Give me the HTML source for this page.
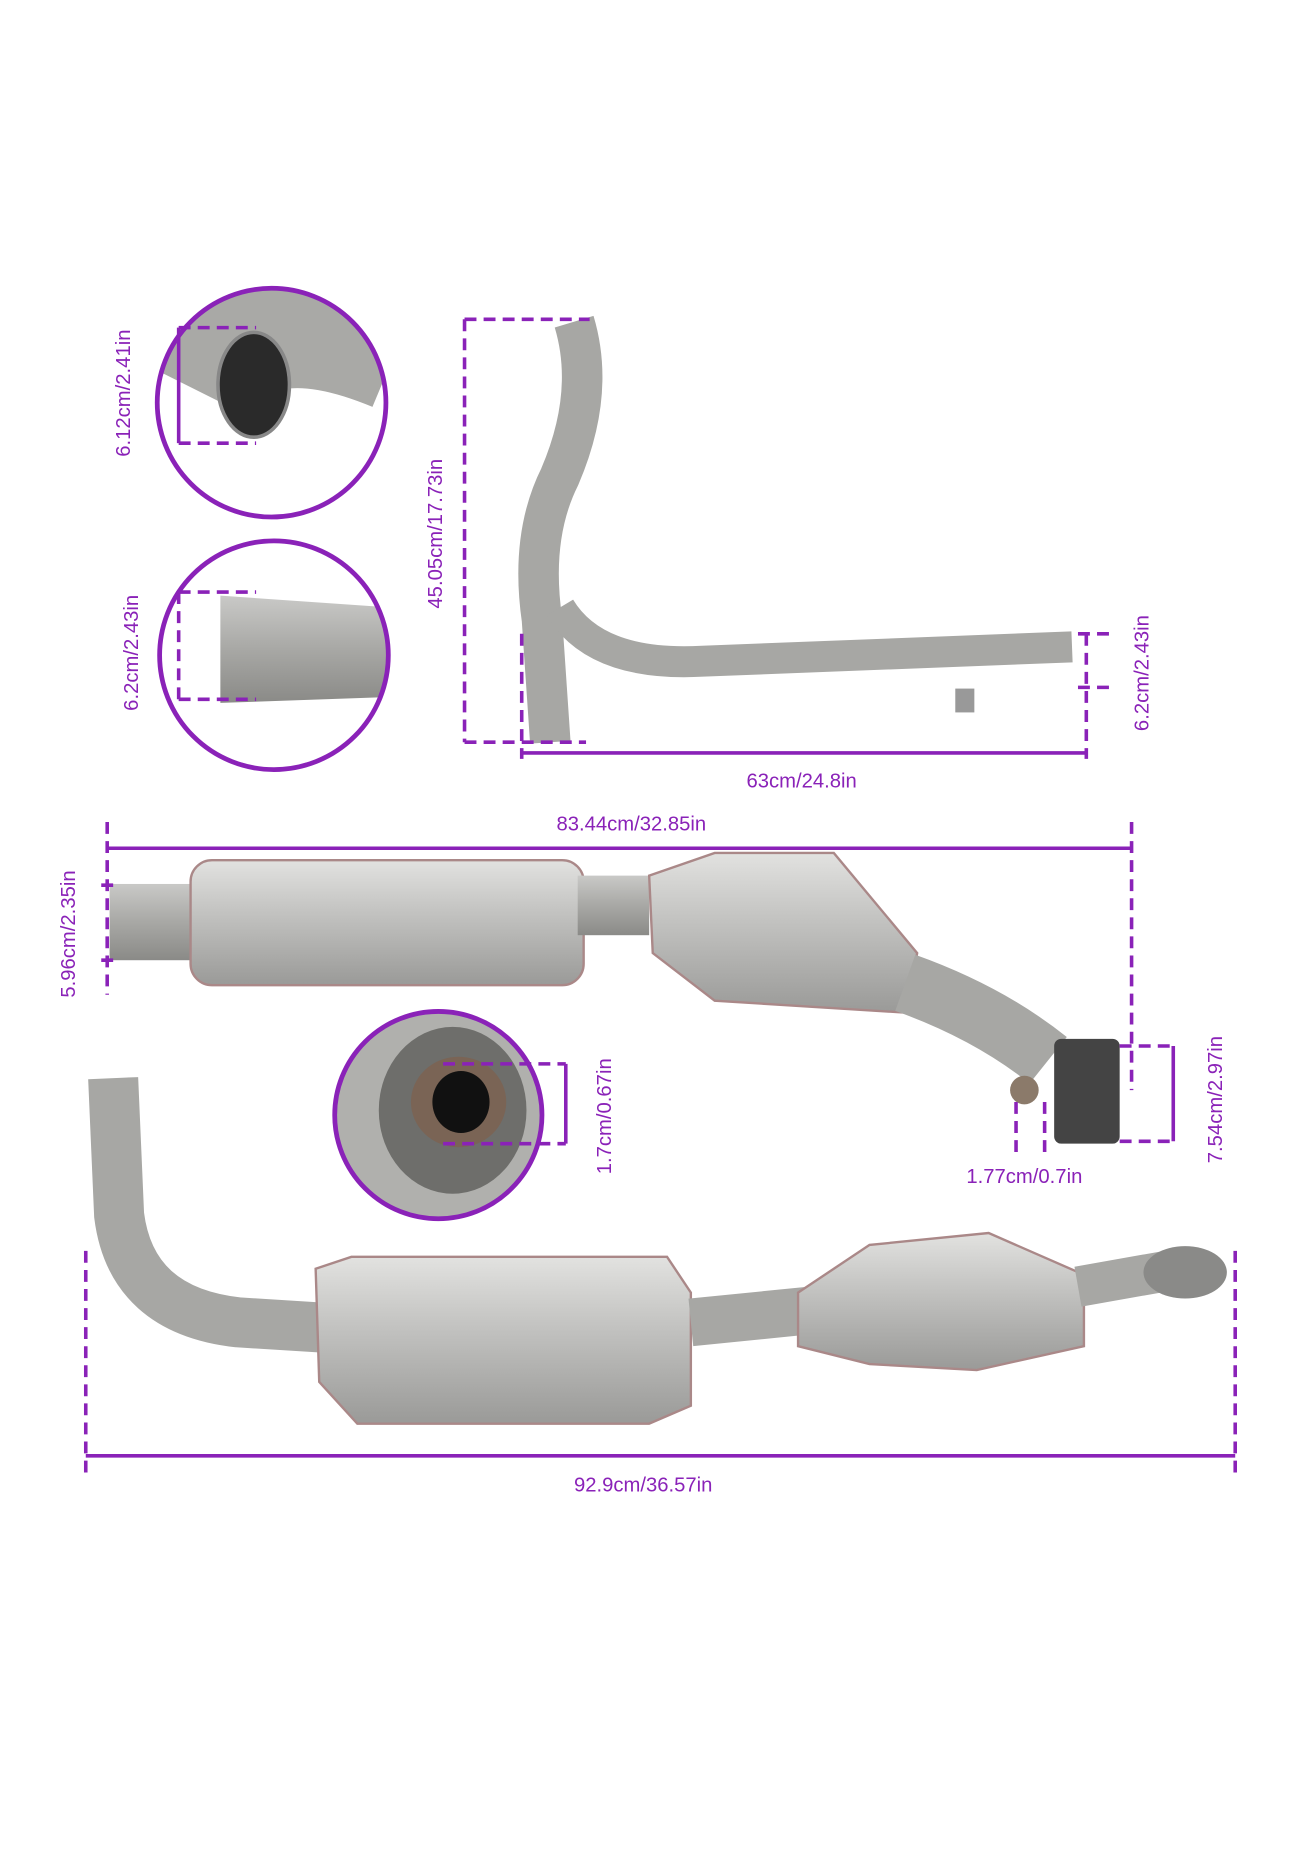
<!DOCTYPE html>
<html><head><meta charset="utf-8"><style>
html,body{margin:0;padding:0;background:#fff;}
svg{display:block}
text{font-family:"Liberation Sans",sans-serif;fill:#8a22b8;font-size:17px}
</style></head><body>
<svg width="1290" height="1868" viewBox="0 0 1083 1568" preserveAspectRatio="none" xmlns="http://www.w3.org/2000/svg">
<defs>
<linearGradient id="pg" x1="0" y1="0" x2="0" y2="1"><stop offset="0" stop-color="#c9c9c7"/><stop offset=".5" stop-color="#a8a8a5"/><stop offset="1" stop-color="#8a8a87"/></linearGradient>
<linearGradient id="cg" x1="0" y1="0" x2="0" y2="1"><stop offset="0" stop-color="#e2e2e0"/><stop offset=".4" stop-color="#c4c4c2"/><stop offset="1" stop-color="#9a9a98"/></linearGradient>
<clipPath id="c1"><circle cx="228" cy="338" r="95"/></clipPath>
<clipPath id="c2"><circle cx="230" cy="550" r="95"/></clipPath>
<clipPath id="c3"><circle cx="368" cy="936" r="86"/></clipPath>
</defs>
<g fill="none" stroke="#8a22b8" stroke-width="3">
<!-- circle 1 -->
<g clip-path="url(#c1)"><path d="M170 330 Q210 250 330 300" stroke="#a9a9a6" stroke-width="90"/><ellipse cx="213" cy="323" rx="30" ry="44" fill="#2a2a2a" stroke="#888" stroke-width="3"/></g>
<circle cx="228" cy="338" r="96" stroke-width="4"/>
<!-- circle 2 -->
<g clip-path="url(#c2)"><path d="M185 500 L330 510 L330 585 L185 590 Z" fill="url(#pg)" stroke="none"/></g>
<circle cx="230" cy="550" r="96" stroke-width="4"/>
<!-- circle 3 -->
<g clip-path="url(#c3)"><rect x="280" y="848" width="176" height="176" fill="#b0b0ad" stroke="none"/><ellipse cx="380" cy="932" rx="62" ry="70" fill="#6e6e6b" stroke="none"/><ellipse cx="385" cy="925" rx="40" ry="38" fill="#7a6455" stroke="none"/><ellipse cx="387" cy="925" rx="24" ry="26" fill="#111" stroke="none"/></g>
<circle cx="368" cy="936" r="87" stroke-width="4"/>
</g>
<!-- Y pipe -->
<g fill="none" stroke-linecap="butt">
<path d="M482 270 Q500 330 470 400 Q445 450 455 520 L462 623" stroke="#a7a7a4" stroke-width="34"/>
<path d="M470 510 Q500 560 590 555 L900 543" stroke="#a7a7a4" stroke-width="26"/>
<rect x="802" y="578" width="16" height="20" fill="#999"/>
</g>
<!-- middle assembly -->
<g>
<rect x="92" y="742" width="80" height="64" fill="url(#pg)"/>
<rect x="160" y="722" width="330" height="105" rx="18" fill="url(#cg)" stroke="#a88" stroke-width="2"/>
<rect x="485" y="735" width="60" height="50" fill="url(#pg)"/>
<path d="M545 735 L600 716 L700 716 L770 800 L760 850 L600 840 L548 800 Z" fill="url(#cg)" stroke="#a88" stroke-width="2"/>
<path d="M760 825 Q830 850 880 890" stroke="#a7a7a4" stroke-width="50" fill="none"/>
<rect x="885" y="872" width="55" height="88" rx="6" fill="#444"/>
<circle cx="860" cy="915" r="12" fill="#8b7a6a"/>
</g>
<!-- bottom assembly -->
<g fill="none">
<path d="M95 905 L100 1020 Q110 1100 200 1110 L280 1115" stroke="#a7a7a4" stroke-width="42"/>
<path d="M265 1065 L295 1055 L560 1055 L580 1085 L580 1180 L545 1195 L300 1195 L268 1160 Z" fill="url(#cg)" stroke="#a88" stroke-width="2"/>
<path d="M580 1110 L680 1100" stroke="#a7a7a4" stroke-width="40"/>
<path d="M670 1085 L730 1045 L830 1035 L910 1070 L910 1130 L820 1150 L730 1145 L670 1130 Z" fill="url(#cg)" stroke="#a88" stroke-width="2"/>
<path d="M905 1080 L990 1065" stroke="#a7a7a4" stroke-width="34"/>
<ellipse cx="995" cy="1068" rx="35" ry="22" fill="#8a8a88"/>
</g>
<!-- dimension lines -->
<g fill="none" stroke="#8a22b8" stroke-width="3" stroke-dasharray="10 6">
<path d="M150 275 H215 M150 372 H215"/>
<path d="M150 497 H215 M150 587 H215 M150 497 V587"/>
<path d="M390 268 V623 M390 268 H495 M390 623 H492"/>
<path d="M438 532 V637 M912 532 V637 M905 532 H935 M905 577 H935"/>
<path d="M90 690 V835 M950 690 V915 M85 743 H100 M85 806 H100"/>
<path d="M372 893 H475 M372 960 H475"/>
<path d="M940 878 H985 M940 958 H985 M853 925 V968 M877 925 V968"/>
<path d="M72 1050 V1237 M1037 1050 V1237"/>
</g>
<g fill="none" stroke="#8a22b8" stroke-width="3">
<path d="M150 275 V372"/>
<path d="M438 632 H912"/>
<path d="M90 712 H950"/>
<path d="M475 893 V960 M985 878 V958"/>
<path d="M72 1222 H1037"/>
</g>
<text x="540" y="1252" text-anchor="middle">92.9cm/36.57in</text>
<text x="530" y="697" text-anchor="middle">83.44cm/32.85in</text>
<text x="673" y="661" text-anchor="middle">63cm/24.8in</text>
<text x="860" y="993" text-anchor="middle">1.77cm/0.7in</text>
<text transform="translate(109,330) rotate(-90)" text-anchor="middle">6.12cm/2.41in</text>
<text transform="translate(116,548) rotate(-90)" text-anchor="middle">6.2cm/2.43in</text>
<text transform="translate(371,448) rotate(-90)" text-anchor="middle">45.05cm/17.73in</text>
<text transform="translate(964,565) rotate(-90)" text-anchor="middle">6.2cm/2.43in</text>
<text transform="translate(63,784) rotate(-90)" text-anchor="middle">5.96cm/2.35in</text>
<text transform="translate(513,937) rotate(-90)" text-anchor="middle">1.7cm/0.67in</text>
<text transform="translate(1026,923) rotate(-90)" text-anchor="middle">7.54cm/2.97in</text>
</svg>
</body></html>
